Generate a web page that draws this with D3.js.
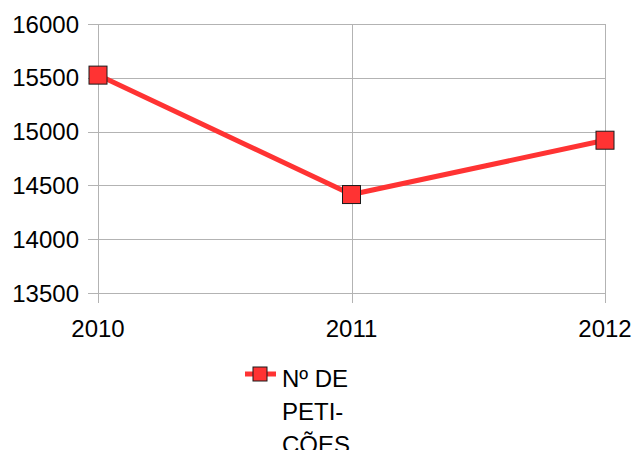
<!DOCTYPE html>
<html><head><meta charset="utf-8">
<script src="https://cdn.jsdelivr.net/npm/d3@7"></script>
<style>html,body{margin:0;padding:0;background:#fff;overflow:hidden}</style>
</head><body>
<svg id="c" width="635" height="450"></svg>
<script>
const years = ["2010", "2011", "2012"];
const values = [15525, 14415, 14920];
const yTicks = [13500, 14000, 14500, 15000, 15500, 16000];
const seriesName = ["Nº DE", "PETI-", "ÇÕES"];

const svg = d3.select("#c");
const font = "'Liberation Sans', Arial, sans-serif";
const red = "#ff3333";
const grid = "#b3b3b3";

const x = d3.scalePoint().domain(years).range([98, 605]);
const y = d3.scaleLinear().domain([13500, 16000]).range([293, 24]);

// horizontal gridlines
svg.append("g").selectAll("line").data(yTicks).join("line")
  .attr("x1", 88).attr("x2", 605)
  .attr("y1", d => Math.round(y(d)) + 0.5).attr("y2", d => Math.round(y(d)) + 0.5)
  .attr("stroke", grid).attr("stroke-width", 1);
// vertical gridlines
svg.append("g").selectAll("line").data(years).join("line")
  .attr("x1", d => Math.round(x(d)) + 0.5).attr("x2", d => Math.round(x(d)) + 0.5)
  .attr("y1", 24).attr("y2", 303)
  .attr("stroke", grid).attr("stroke-width", 1);

// y labels
svg.append("g").selectAll("text").data(yTicks).join("text")
  .attr("x", 79).attr("y", d => y(d)).attr("dy", "0.36em")
  .attr("text-anchor", "end").attr("font-family", font).attr("font-size", 24)
  .attr("fill", "#000").text(d => d);
// x labels
svg.append("g").selectAll("text").data(years).join("text")
  .attr("x", d => x(d)).attr("y", 337)
  .attr("text-anchor", "middle").attr("font-family", font).attr("font-size", 24)
  .attr("fill", "#000").text(d => d);

// line
const data = years.map((d, i) => ({ k: d, v: values[i] }));
svg.append("path").datum(data)
  .attr("d", d3.line().x(d => x(d.k)).y(d => y(d.v)))
  .attr("fill", "none").attr("stroke", red).attr("stroke-width", 5)
  .attr("stroke-linejoin", "round");
svg.append("g").selectAll("rect").data(data).join("rect")
  .attr("x", d => x(d.k) - 9).attr("y", d => y(d.v) - 9)
  .attr("width", 18).attr("height", 18)
  .attr("fill", red).attr("stroke", "#1a1a1a").attr("stroke-width", 1);

// legend
const lg = svg.append("g");
lg.append("line").attr("x1", 245).attr("x2", 276).attr("y1", 374).attr("y2", 374)
  .attr("stroke", red).attr("stroke-width", 5);
lg.append("rect").attr("x", 253).attr("y", 367).attr("width", 14).attr("height", 14)
  .attr("fill", red).attr("stroke", "#1a1a1a").attr("stroke-width", 1);
lg.selectAll("text").data(seriesName).join("text")
  .attr("x", 282).attr("y", (d, i) => 387 + i * 33)
  .attr("font-family", font).attr("font-size", 24).attr("fill", "#000")
  .text(d => d);
</script>
</body></html>
